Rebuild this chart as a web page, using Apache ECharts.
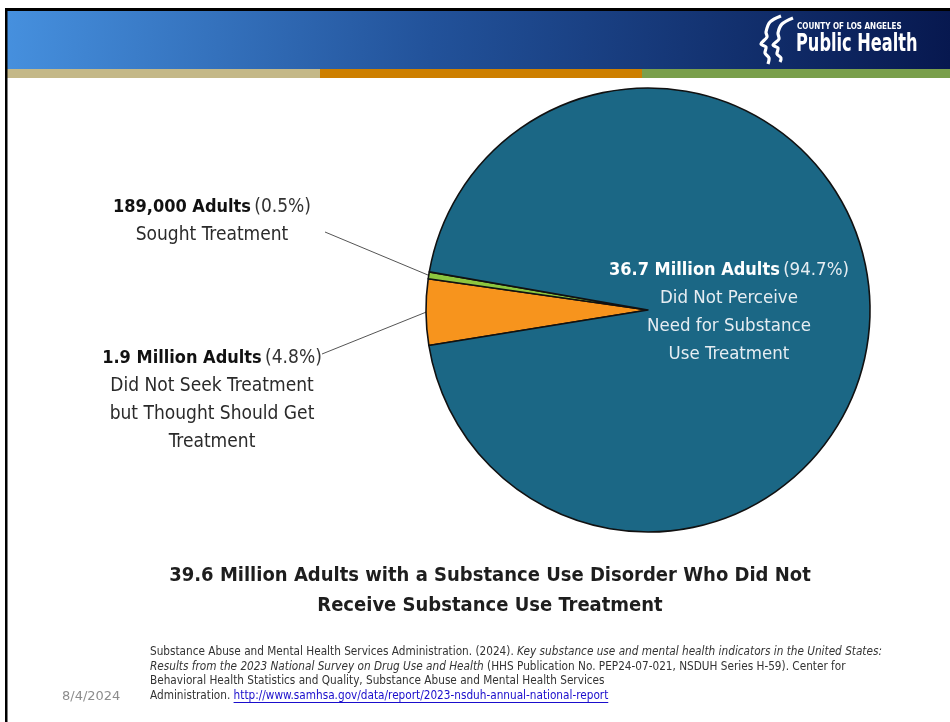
<!DOCTYPE html>
<html>
<head>
<meta charset="utf-8">
<script src="https://cdn.jsdelivr.net/npm/echarts@6/dist/echarts.min.js"></script>
<style>
  html, body { margin: 0; padding: 0; background: #ffffff; }
  #chart { width: 950px; height: 722px; }
</style>
</head>
<body>
<div id="chart"></div>
<script>
// Adults with a substance use disorder who did not receive treatment (NSDUH 2023)
const categories = [
  'Did Not Seek Treatment but Thought Should Get Treatment',
  'Sought Treatment',
  'Did Not Perceive Need for Substance Use Treatment'
];
const adultCounts = ['1.9 Million Adults', '189,000 Adults', '36.7 Million Adults'];
const percentShares = [4.8, 0.5, 94.7];
const detailLines = [
  ['Did Not Seek Treatment', 'but Thought Should Get', 'Treatment'],
  ['Sought Treatment'],
  ['Did Not Perceive', 'Need for Substance', 'Use Treatment']
];
const sliceColors = ['#f7941d', '#8dc63f', '#1b6785'];

const titleText = '39.6 Million Adults with a Substance Use Disorder Who Did Not\nReceive Substance Use Treatment';
const dateText = '8/4/2024';
const citeLine1a = 'Substance Abuse and Mental Health Services Administration. (2024). ';
const citeLine1b = 'Key substance use and mental health indicators in the United States:';
const citeLine2a = 'Results from the 2023 National Survey on Drug Use and Health';
const citeLine2b = ' (HHS Publication No. PEP24-07-021, NSDUH Series H-59). Center for';
const citeLine3 = 'Behavioral Health Statistics and Quality, Substance Abuse and Mental Health Services';
const citeLine4a = 'Administration. ';
const citeLink = 'http://www.samhsa.gov/data/report/2023-nsduh-annual-national-report';

const NARROW = "'Liberation Sans Narrow', 'Arial Narrow', 'DejaVu Sans Condensed', sans-serif";
const CITE_FONT = "'DejaVu Sans Condensed', 'Liberation Sans', sans-serif";
const CITE_SIZE = 11.7;

// label placement (centre of each text block) and where its leader line ends
const labelPlacement = [
  { x: 212, y: 400, lineEnd: [322, 354] },
  { x: 212, y: 221, lineEnd: [325, 232] },
  { x: 729, y: 312 }
];

function measure(text, font) {
  const c = document.createElement('canvas').getContext('2d');
  c.font = font;
  return c.measureText(text).width;
}

const chart = echarts.init(document.getElementById('chart'), null, { renderer: 'canvas' });

const pieData = percentShares.map((v, i) => {
  const isInside = i === 2;
  const size = isInside ? 18.5 : 19;
  return {
    name: categories[i],
    value: v,
    itemStyle: { color: sliceColors[i] },
    label: {
      show: true,
      position: isInside ? 'inside' : 'outside',
      formatter: '{b|' + adultCounts[i] + '} {p|(' + v + '%)}\n' +
        detailLines[i].map(t => '{n|' + t + '}').join('\n'),
      align: 'center',
      rich: {
        b: { fontFamily: NARROW, fontSize: 18, fontWeight: 'bold', color: isInside ? '#ffffff' : '#111111', lineHeight: 28 },
        p: { fontFamily: NARROW, fontSize: size, color: isInside ? '#e6edf2' : '#333333', lineHeight: 28 },
        n: { fontFamily: NARROW, fontSize: size, color: isInside ? '#e6edf2' : '#2a2a2a', lineHeight: 28, align: 'center' }
      }
    },
    labelLine: { show: !isInside, lineStyle: { color: '#555555', width: 1 } }
  };
});

chart.setOption({
  animation: false,
  backgroundColor: '#ffffff',
  title: {
    text: titleText,
    left: 485,
    top: 556,
    textAlign: 'center',
    textStyle: { fontFamily: NARROW, fontSize: 20, fontWeight: 'bold', color: '#1e1e1e', lineHeight: 30 }
  },
  series: [{
    type: 'pie',
    center: [648, 310],
    radius: 222,
    startAngle: 189.2,
    clockwise: true,
    avoidLabelOverlap: false,
    silent: true,
    itemStyle: { borderColor: '#111111', borderWidth: 1.6 },
    labelLine: { smooth: false, length: 10, length2: 10 },
    labelLayout: function (params) {
      const p = labelPlacement[params.dataIndex];
      const out = { x: p.x, y: p.y, align: 'center', verticalAlign: 'middle' };
      if (p.lineEnd && params.labelLinePoints) {
        const start = params.labelLinePoints[0];
        out.labelLinePoints = [start, start, p.lineEnd];
      }
      return out;
    },
    data: pieData
  }],
  graphic: [
    // header band
    {
      type: 'rect', silent: true, z: 10,
      shape: { x: 7, y: 11, width: 943, height: 58 },
      style: {
        fill: new echarts.graphic.LinearGradient(0, 0, 1, 1, [
          { offset: 0, color: '#4690de' },
          { offset: 0.45, color: '#22529a' },
          { offset: 1, color: '#07184f' }
        ])
      }
    },
    { type: 'rect', silent: true, z: 10, shape: { x: 7, y: 69, width: 313, height: 9 }, style: { fill: '#c4b888' } },
    { type: 'rect', silent: true, z: 10, shape: { x: 320, y: 69, width: 322, height: 9 }, style: { fill: '#cd7f00' } },
    { type: 'rect', silent: true, z: 10, shape: { x: 642, y: 69, width: 308, height: 9 }, style: { fill: '#7a9f4b' } },
    // slide frame
    { type: 'rect', silent: true, z: 11, shape: { x: 5, y: 8, width: 945, height: 3 }, style: { fill: '#000000' } },
    { type: 'rect', silent: true, z: 11, shape: { x: 5, y: 8, width: 2.5, height: 714 }, style: { fill: '#000000' } },
    // logo: two profiles
    {
      type: 'polyline', silent: true, z: 12,
      shape: { points: [[781, 16], [770, 22], [766, 32], [767, 37], [761, 44], [766, 47], [765, 53], [769, 58], [768, 64]], smooth: 0.3 },
      style: { fill: null, stroke: '#ffffff', lineWidth: 3.2 }
    },
    {
      type: 'polyline', silent: true, z: 12,
      shape: { points: [[793, 18], [782, 24], [778, 33], [779, 39], [773, 45], [778, 48], [777, 54], [781, 58], [780, 62]], smooth: 0.3 },
      style: { fill: null, stroke: '#ffffff', lineWidth: 3.2 }
    },
    {
      type: 'text', silent: true, z: 12, x: 797, y: 27,
      style: { text: 'COUNTY OF LOS ANGELES', fill: '#ffffff', font: "bold 8px 'Liberation Sans Narrow', 'DejaVu Sans Condensed', sans-serif", verticalAlign: 'middle' }
    },
    {
      type: 'text', silent: true, z: 12, x: 796, y: 45, scaleX: 0.75,
      style: { text: 'Public Health', fill: '#ffffff', font: "bold 24px 'Liberation Sans Narrow', 'DejaVu Sans Condensed', sans-serif", verticalAlign: 'middle' }
    },
    // date
    {
      type: 'text', silent: true, x: 62, y: 697,
      style: { text: dateText, fill: '#8c8c8c', font: "13px 'DejaVu Sans', sans-serif", verticalAlign: 'middle' }
    },
    // citation
    {
      type: 'text', silent: true, x: 150, y: 652,
      style: {
        text: '{n|' + citeLine1a + '}{i|' + citeLine1b + '}',
        verticalAlign: 'middle',
        rich: {
          n: { fontFamily: CITE_FONT, fontSize: CITE_SIZE, fill: '#333333' },
          i: { fontFamily: CITE_FONT, fontSize: CITE_SIZE, fontStyle: 'italic', fill: '#333333' }
        }
      }
    },
    {
      type: 'text', silent: true, x: 150, y: 666.5,
      style: {
        text: '{i|' + citeLine2a + '}{n|' + citeLine2b + '}',
        verticalAlign: 'middle',
        rich: {
          n: { fontFamily: CITE_FONT, fontSize: CITE_SIZE, fill: '#333333' },
          i: { fontFamily: CITE_FONT, fontSize: CITE_SIZE, fontStyle: 'italic', fill: '#333333' }
        }
      }
    },
    {
      type: 'text', silent: true, x: 150, y: 681,
      style: { text: citeLine3, fill: '#333333', font: CITE_SIZE + 'px ' + CITE_FONT, verticalAlign: 'middle' }
    },
    {
      type: 'text', silent: true, x: 150, y: 695.5,
      style: { text: citeLine4a, fill: '#333333', font: CITE_SIZE + 'px ' + CITE_FONT, verticalAlign: 'middle' }
    },
    {
      type: 'text', silent: true, x: 150 + measure(citeLine4a, CITE_SIZE + 'px ' + CITE_FONT), y: 695.5,
      style: { text: citeLink, fill: '#1a0dcc', font: CITE_SIZE + 'px ' + CITE_FONT, verticalAlign: 'middle' }
    },
    {
      type: 'line', silent: true,
      shape: {
        x1: 150 + measure(citeLine4a, CITE_SIZE + 'px ' + CITE_FONT), y1: 702.5,
        x2: 150 + measure(citeLine4a + citeLink, CITE_SIZE + 'px ' + CITE_FONT), y2: 702.5
      },
      style: { stroke: '#1a0dcc', lineWidth: 1 }
    }
  ]
});
</script>
</body>
</html>
